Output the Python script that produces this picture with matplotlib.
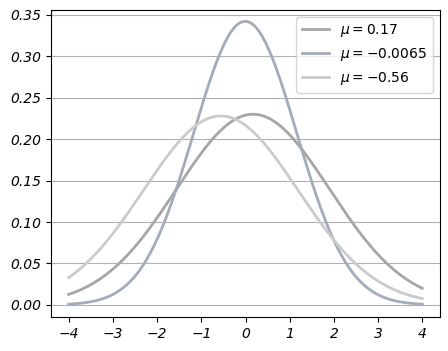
import matplotlib
import numpy as np

matplotlib.use("Agg")
import matplotlib.pyplot as plt

# curve parameters (peak height -> sigma)
MUS = [0.17, -0.0065, -0.56]
SIGMAS = [1.734, 1.166, 1.75]
LABELS = [r"$\mu=0.17$", r"$\mu=-0.0065$", r"$\mu=-0.56$"]
COLORS = ["#a6a6a6", "#a3acb9", "#cbcbcb"]
YTICKS = [0.00, 0.05, 0.10, 0.15, 0.20, 0.25, 0.30, 0.35]
XTICKS = [-4, -3, -2, -1, 0, 1, 2, 3, 4]

x = np.linspace(-4, 4, 400)

fig = plt.figure(figsize=(4.48, 3.51), dpi=100)
ax = fig.add_axes([0.114, 0.097, 0.868, 0.875])
for mu, sd, lab, col in zip(MUS, SIGMAS, LABELS, COLORS):
    y = np.exp(-0.5 * ((x - mu) / sd) ** 2) / (sd * np.sqrt(2 * np.pi))
    ax.plot(x, y, color=col, lw=2, label=lab)

ax.set_xticks(XTICKS)
ax.set_yticks(YTICKS)
ax.set_xticklabels([str(t).replace("-", "\u2212") for t in XTICKS], fontstyle="italic")
ax.set_yticklabels([f"{t:.2f}" for t in YTICKS], fontstyle="italic")
ax.yaxis.grid(True, color="#b0b0b0", lw=0.8)
ax.set_axisbelow(True)
ax.set_xlim(-4.4, 4.4)
ax.set_ylim(-0.0145, 0.356)
ax.legend(loc="upper right")
fig.savefig("out.png", dpi=100)
